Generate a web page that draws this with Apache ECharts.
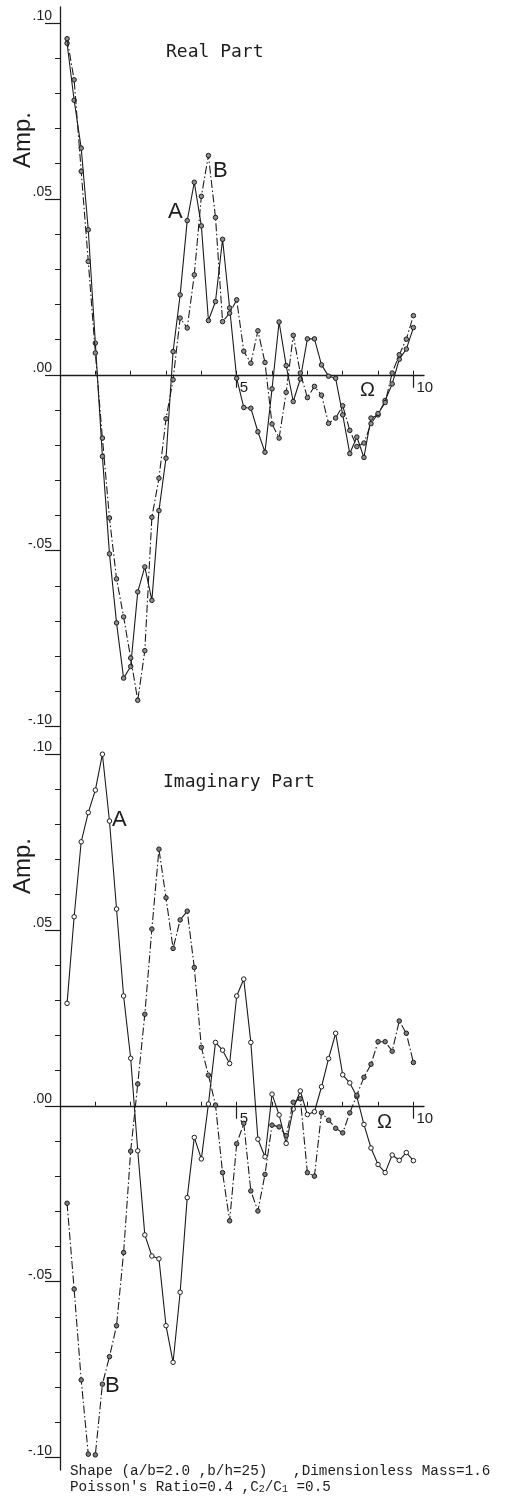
<!DOCTYPE html>
<html>
<head>
<meta charset="utf-8">
<script src="https://cdn.jsdelivr.net/npm/echarts@6/dist/echarts.min.js"></script>
<style>
  html, body { margin: 0; padding: 0; background: #fff; }
  #chart { width: 508px; height: 1497px; }
</style>
</head>
<body>
<div id="chart"></div>
<script>
/** dimensionless frequency (Ω) at each computed point */
const omega = [
  0.2, 0.4, 0.6, 0.8, 1.0, 1.2, 1.4, 1.6, 1.8, 2.0,
  2.2, 2.4, 2.6, 2.8, 3.0, 3.2, 3.4, 3.6, 3.8, 4.0,
  4.2, 4.4, 4.6, 4.8, 5.0, 5.2, 5.4, 5.6, 5.8, 6.0,
  6.2, 6.4, 6.6, 6.8, 7.0, 7.2, 7.4, 7.6, 7.8, 8.0,
  8.2, 8.4, 8.6, 8.8, 9.0, 9.2, 9.4, 9.6, 9.8, 10.0,
];

/** real part, curve A (solid) */
const realA = [
  0.0942, 0.078, 0.0644, 0.0412, 0.009, -0.0232, -0.0509, -0.0705, -0.0862, -0.0829,
  -0.0617, -0.0546, -0.0641, -0.0386, -0.0237, 0.0066, 0.0227, 0.0438, 0.0547, 0.0423,
  0.0154, 0.0208, 0.0385, 0.019, -0.001, -0.0093, -0.0095, -0.0162, -0.022, -0.004,
  0.015, 0.0026, -0.0076, -0.0012, 0.0102, 0.0102, 0.0028, -0.0004, -0.001, -0.0114,
  -0.0224, -0.0177, -0.0235, -0.0123, -0.0114, -0.0073, -0.0026, 0.0044, 0.0073, 0.0134,
];

/** real part, curve B (dash-dot) */
const realB = [
  0.0955, 0.0838, 0.0578, 0.0322, 0.0062, -0.018, -0.0407, -0.058, -0.0688, -0.0805,
  -0.0925, -0.0784, -0.0405, -0.0294, -0.0125, -0.0014, 0.0161, 0.0133, 0.0284, 0.0507,
  0.0623, 0.0447, 0.0151, 0.0175, 0.0213, 0.0067, 0.0033, 0.0125, 0.0035, -0.014,
  -0.018, -0.005, 0.0112, 0.0005, -0.0065, -0.0033, -0.0058, -0.0138, -0.0123, -0.0088,
  -0.0158, -0.0204, -0.0194, -0.0139, -0.011, -0.0079, 0.0005, 0.0057, 0.0101, 0.0168,
];

/** imaginary part, curve A (solid, open markers) */
const imagA = [
  0.0291, 0.0537, 0.075, 0.0833, 0.0897, 0.0999, 0.0809, 0.0559, 0.0312, 0.0135,
  -0.0128, -0.0367, -0.0427, -0.0435, -0.0625, -0.0729, -0.053, -0.0261, -0.009, -0.0151,
  0.0005, 0.018, 0.0158, 0.012, 0.0312, 0.036, 0.018, -0.0095, -0.0145, 0.0033,
  -0.0026, -0.0107, -0.0009, 0.0042, -0.0025, -0.0017, 0.0054, 0.0134, 0.0206, 0.0088,
  0.0065, 0.0026, -0.0053, -0.012, -0.0167, -0.019, -0.014, -0.0155, -0.0133, -0.0156,
];

/** imaginary part, curve B (dash-dot, filled markers) */
const imagB = [
  -0.0277, -0.0521, -0.0779, -0.099, -0.0992, -0.0791, -0.0713, -0.0625, -0.0417, -0.0129,
  0.0062, 0.026, 0.0502, 0.0729, 0.0591, 0.0447, 0.0528, 0.0553, 0.0393, 0.0166,
  0.0087, 0.0002, -0.019, -0.0327, -0.0108, -0.005, -0.0242, -0.0299, -0.0195, -0.0055,
  -0.006, -0.0085, 0.001, 0.002, -0.019, -0.02, -0.002, -0.0041, -0.0064, -0.0077,
  -0.002, 0.003, 0.0081, 0.0118, 0.0182, 0.0182, 0.0155, 0.0241, 0.0206, 0.0123,
];

/** tick values */
const xSmallTicks = [1, 2, 3, 4, 5, 6, 7, 8, 9, 10];
const xLabelTicks = [5, 10];
const ySmallTicks = [
  -0.1, -0.09, -0.08, -0.07, -0.06, -0.05, -0.04, -0.03, -0.02, -0.01, 0,
  0.01, 0.02, 0.03, 0.04, 0.05, 0.06, 0.07, 0.08, 0.09, 0.1,
];
const yLabelTicks = [-0.1, -0.05, 0, 0.05, 0.1];

/** axis ranges (the axis lines run a little past ±.10 and past Ω = 10) */
const yMin = -0.1035;
const yMax = 0.1045;
const xMax = 10.3;
const gridHeight = 732;
/** the labelled x axis sits on the zero line, not on the grid edge */
const zeroOffset = -gridHeight * (0 - yMin) / (yMax - yMin);

const ink = "#1c1c1c";
const clear = "rgba(0,0,0,0)";
const sans = "'Liberation Sans', Arial, sans-serif";
const mono = "'DejaVu Sans Mono', monospace";
const dashDot = [8, 2.5, 1.5, 2.5];

/** ".05" style amplitude labels */
const ampLabel = (v) => {
  const s = String(Math.round(Math.abs(v) * 100)).padStart(2, "0");
  return (v < -1e-9 ? "-." : ".") + s;
};

/** axes for one panel (the main x axis rides the zero line, offset axis carries 5 and 10) */
const panelAxes = (grid) => ({
  x: [
    {
      gridIndex: grid, type: "value", min: 0, max: xMax, position: "bottom",
      axisLine: { show: false, onZero: false },
      axisTick: { inside: true, length: 4, customValues: xSmallTicks, lineStyle: { color: ink } },
      axisLabel: { show: false },
      splitLine: { show: false },
      offset: zeroOffset,
    },
    {
      gridIndex: grid, type: "value", min: 0, max: xMax, position: "bottom",
      offset: zeroOffset,
      axisLine: { show: true, onZero: false, lineStyle: { color: ink, width: 1.3 } },
      axisTick: { inside: false, length: 13, customValues: xLabelTicks, lineStyle: { color: ink, width: 1.2 } },
      axisLabel: {
        customValues: xLabelTicks, color: ink, fontFamily: sans, fontSize: 15,
        align: "left", margin: 6, padding: [0, 0, 0, 3],
        formatter: (v) => String(v),
      },
      splitLine: { show: false },
    },
  ],
  y: [
    {
      gridIndex: grid, type: "value", min: yMin, max: yMax, position: "left",
      axisLine: { show: true, onZero: false, lineStyle: { color: ink, width: 1.3 } },
      axisTick: { length: 5, customValues: ySmallTicks, lineStyle: { color: ink } },
      axisLabel: { show: false },
      splitLine: { show: false },
    },
    {
      gridIndex: grid, type: "value", min: yMin, max: yMax, position: "left",
      axisLine: { show: false, onZero: false },
      axisTick: { length: 15, customValues: yLabelTicks, lineStyle: { color: ink, width: 1.2 } },
      axisLabel: {
        customValues: yLabelTicks, color: ink, fontFamily: sans, fontSize: 14,
        align: "right", verticalAlign: "bottom", margin: 8,
        formatter: ampLabel,
      },
      splitLine: { show: false },
    },
  ],
});

const topAxes = panelAxes(0);
const bottomAxes = panelAxes(1);

/** one curve */
const curve = (values, xi, yi, dashed, fill) => ({
  type: "line",
  xAxisIndex: xi,
  yAxisIndex: yi,
  data: omega.map((w, i) => [w, values[i]]),
  symbol: "circle",
  symbolSize: 4.5,
  showSymbol: true,
  itemStyle: { color: fill, borderColor: ink, borderWidth: 1 },
  lineStyle: { color: ink, width: 1.1, type: dashed ? dashDot : "solid" },
  emphasis: { disabled: true },
  z: dashed ? 3 : 2,
});

const label = (t, x, y, size, family = sans, extra = {}) => ({
  type: "text", x, y, silent: true,
  style: Object.assign({ text: t, fill: ink, font: `${size}px ${family}`,
    textAlign: "left", textVerticalAlign: "middle" }, extra),
});

const option = {
  animation: false,
  backgroundColor: "#fff",
  grid: [
    { left: 60, top: 7, width: 364, height: gridHeight },
    { left: 60, top: 738, width: 364, height: gridHeight },
  ],
  xAxis: [...topAxes.x, ...bottomAxes.x],
  yAxis: [...topAxes.y, ...bottomAxes.y],
  series: [
    curve(realA, 0, 0, false, "#8e8e8e"),
    curve(realB, 0, 0, true, "#8e8e8e"),
    curve(imagA, 2, 2, false, "#ffffff"),
    curve(imagB, 2, 2, true, "#7d7d7d"),
  ],
  graphic: [
    label("Real Part", 166, 52, 18, mono),
    label("Imaginary Part", 163, 782, 18, mono),
    Object.assign(label("Amp.", 23, 140, 24, sans, { textAlign: "center" }), { rotation: Math.PI / 2 }),
    Object.assign(label("Amp.", 23, 866, 24, sans, { textAlign: "center" }), { rotation: Math.PI / 2 }),
    label("A", 168, 212, 22),
    label("B", 213, 171, 22),
    label("A", 112, 820, 22),
    label("B", 105, 1386, 22),
    label("Ω", 360, 390, 20),
    label("Ω", 377, 1122, 20),
    {
      type: "text", x: 70, y: 1464, silent: true,
      style: {
        text: "Shape (a/b=2.0 ,b/h=25)   ,Dimensionless Mass=1.6",
        fill: ink, font: "14.3px 'Liberation Mono', monospace",
      },
    },
    {
      type: "text", x: 70, y: 1479, silent: true,
      style: {
        text: "{n|Poisson's Ratio=0.4 ,C}{s|2}{n|/C}{s|1}{n| =0.5}",
        fill: ink,
        rich: {
          n: { fontFamily: "'Liberation Mono', monospace", fontSize: 14.3, lineHeight: 15, verticalAlign: "bottom" },
          s: { fontFamily: "'Liberation Mono', monospace", fontSize: 10, lineHeight: 15, verticalAlign: "bottom", padding: [4, 0, 0, 0] },
        },
      },
    },
  ],
};

const chart = echarts.init(document.getElementById("chart"), null, { renderer: "canvas" });
chart.setOption(option);
</script>
</body>
</html>
